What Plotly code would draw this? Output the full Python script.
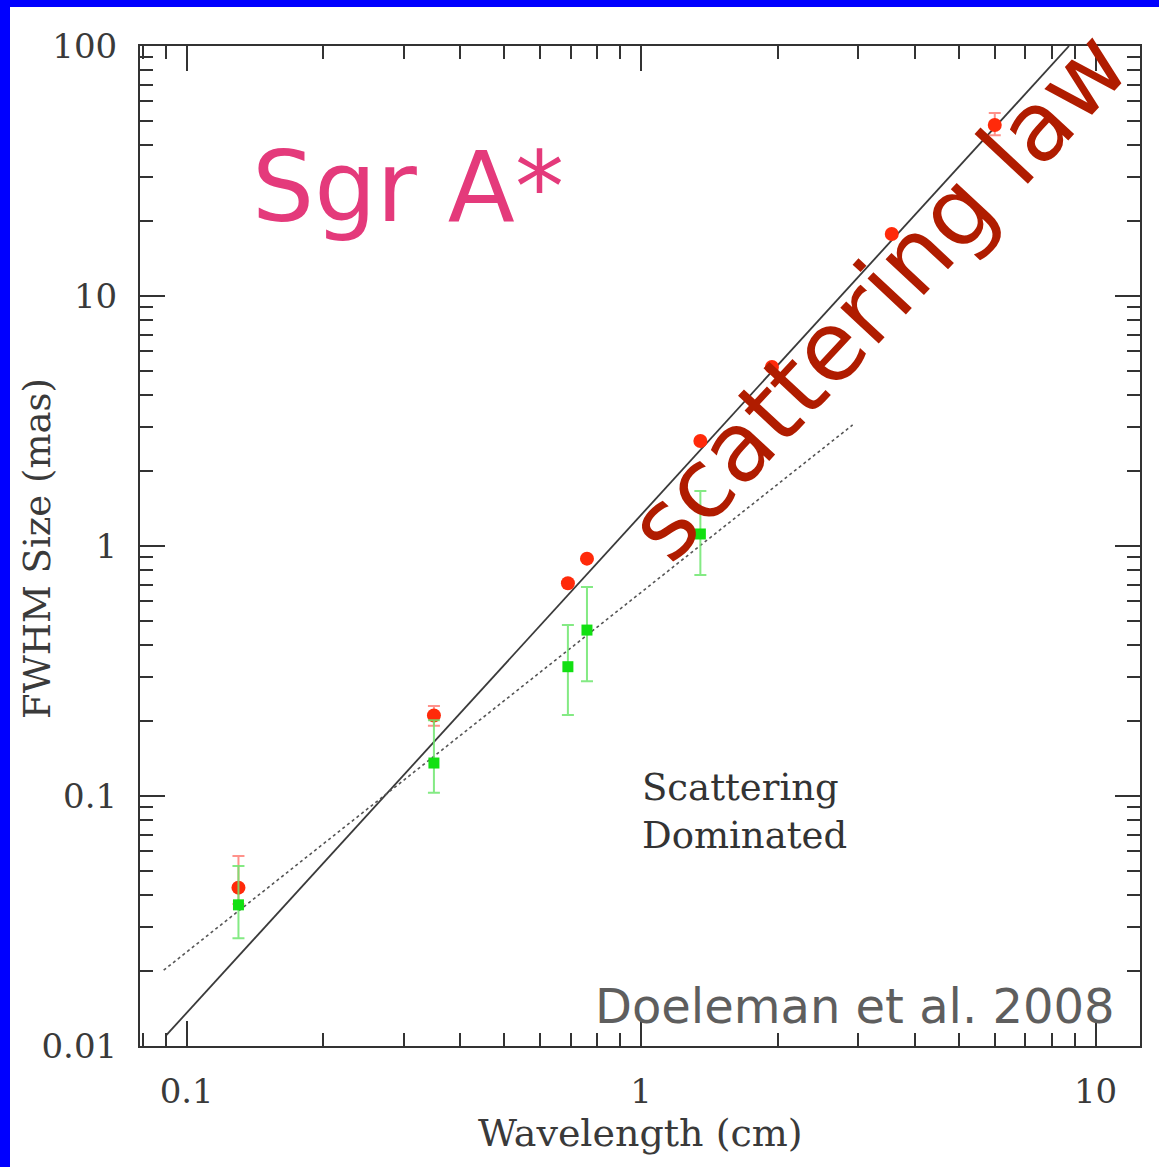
import plotly.graph_objects as go

# Measured FWHM sizes of Sgr A* (red: observed, green: intrinsic estimate)
obs_wavelength_cm = [0.13, 0.35, 0.69, 0.76, 1.35, 1.94, 3.56, 6.0]
obs_size_mas = [0.043, 0.21, 0.71, 0.89, 2.63, 5.2, 17.7, 48.3]
obs_err_plus = [0.0145, 0.019, 0.0, 0.0, 0.0, 0.0, 0.0, 5.7]
obs_err_minus = [0.006, 0.019, 0.0, 0.0, 0.0, 0.0, 0.0, 4.3]

int_wavelength_cm = [0.13, 0.35, 0.69, 0.76, 1.35]
int_size_mas = [0.0367, 0.1355, 0.329, 0.461, 1.117]
int_err_plus = [0.0158, 0.0655, 0.154, 0.225, 0.543]
int_err_minus = [0.0097, 0.0325, 0.118, 0.173, 0.352]

# lambda^2 scattering law and the intrinsic-size trend (end points)
law_wavelength_cm = [0.09, 8.74]
law_size_mas = [0.011, 100.0]
trend_wavelength_cm = [0.089, 2.92]
trend_size_mas = [0.0201, 3.05]

x_tickvals = [0.1, 1, 10]
x_ticktext = ["0.1", "1", "10"]
y_tickvals = [0.01, 0.1, 1, 10, 100]
y_ticktext = ["0.01", "0.1", "1", "10", "100"]

SERIF = "DejaVu Serif"
SANS = "DejaVu Sans"
AXIS_COLOR = "#333333"

fig = go.Figure()

fig.add_trace(go.Scatter(
    x=law_wavelength_cm, y=law_size_mas, mode="lines",
    line=dict(color="#3a3a3a", width=1.8), hoverinfo="skip", showlegend=False,
))
fig.add_trace(go.Scatter(
    x=trend_wavelength_cm, y=trend_size_mas, mode="lines",
    line=dict(color="#555555", width=1.6, dash="dot"), hoverinfo="skip", showlegend=False,
))
fig.add_trace(go.Scatter(
    x=obs_wavelength_cm, y=obs_size_mas, mode="markers",
    marker=dict(symbol="circle", size=14, color="#ff2a0a"),
    error_y=dict(type="data", array=obs_err_plus, arrayminus=obs_err_minus,
                 color="rgba(255,110,100,0.75)", thickness=2, width=6),
    showlegend=False,
))
fig.add_trace(go.Scatter(
    x=int_wavelength_cm, y=int_size_mas, mode="markers",
    marker=dict(symbol="square", size=11, color="#12e012"),
    error_y=dict(type="data", array=int_err_plus, arrayminus=int_err_minus,
                 color="rgba(110,230,110,0.85)", thickness=2, width=6),
    showlegend=False,
))

axis_common = dict(
    type="log",
    showgrid=False,
    zeroline=False,
    showline=True,
    linecolor=AXIS_COLOR,
    linewidth=2,
    mirror="allticks",
    ticks="inside",
    ticklen=25,
    tickwidth=1.5,
    tickcolor=AXIS_COLOR,
    tickfont=dict(family=SERIF, size=34, color="#3a3a3a"),
    minor=dict(ticks="inside", ticklen=13, tickwidth=1.5, tickcolor=AXIS_COLOR,
               dtick="D1", showgrid=False),
)

fig.update_xaxes(
    **axis_common,
    range=[-1.1027, 1.0977],
    tickvals=x_tickvals, ticktext=x_ticktext,
    ticklabelstandoff=14,
)
fig.update_yaxes(
    **axis_common,
    range=[-2, 2],
    tickvals=y_tickvals, ticktext=y_ticktext,
    ticklabelstandoff=14,
)

annotations = [
    dict(text="Wavelength (cm)", x=0.5, y=-0.087, xref="paper", yref="paper",
         xanchor="center", yanchor="middle", showarrow=False,
         font=dict(family=SERIF, size=38, color="#3a3a3a")),
    dict(text="FWHM Size (mas)", x=-0.103, y=0.497, xref="paper", yref="paper",
         xanchor="center", yanchor="middle", showarrow=False, textangle=-90,
         font=dict(family=SERIF, size=37, color="#3a3a3a")),
    dict(text="Sgr A*", x=0.268, y=0.859, xref="paper", yref="paper",
         xanchor="center", yanchor="middle", showarrow=False,
         font=dict(family=SANS, size=98, color="#e43a7b")),
    dict(text="scattering law", x=0.738, y=0.750, xref="paper", yref="paper",
         xanchor="center", yanchor="middle", showarrow=False, textangle=-47,
         font=dict(family=SANS, size=96, color="#b01c00")),
    dict(text="Scattering<br>Dominated", x=0.500, y=0.235, xref="paper", yref="paper",
         xanchor="left", yanchor="middle", showarrow=False, align="left",
         font=dict(family=SERIF, size=37, color="#333333")),
    dict(text="Doeleman et al. 2008", x=0.977, y=0.040, xref="paper", yref="paper",
         xanchor="right", yanchor="middle", showarrow=False,
         font=dict(family=SANS, size=48, color="#5e5e5e")),
]

# blue frame along the left and top edges of the page
shapes = [
    dict(type="rect", xref="paper", yref="paper", x0=-0.14, x1=-0.13, y0=-0.125, y1=1.046,
         fillcolor="#0000ff", line=dict(width=0), layer="above"),
    dict(type="rect", xref="paper", yref="paper", x0=-0.14, x1=1.02, y0=1.039, y1=1.046,
         fillcolor="#0000ff", line=dict(width=0), layer="above"),
]

fig.update_layout(
    width=1159, height=1167,
    margin=dict(l=140, r=19, t=46, b=121),
    paper_bgcolor="white", plot_bgcolor="white",
    annotations=annotations, shapes=shapes,
    showlegend=False,
)

fig.write_html("out.html")
